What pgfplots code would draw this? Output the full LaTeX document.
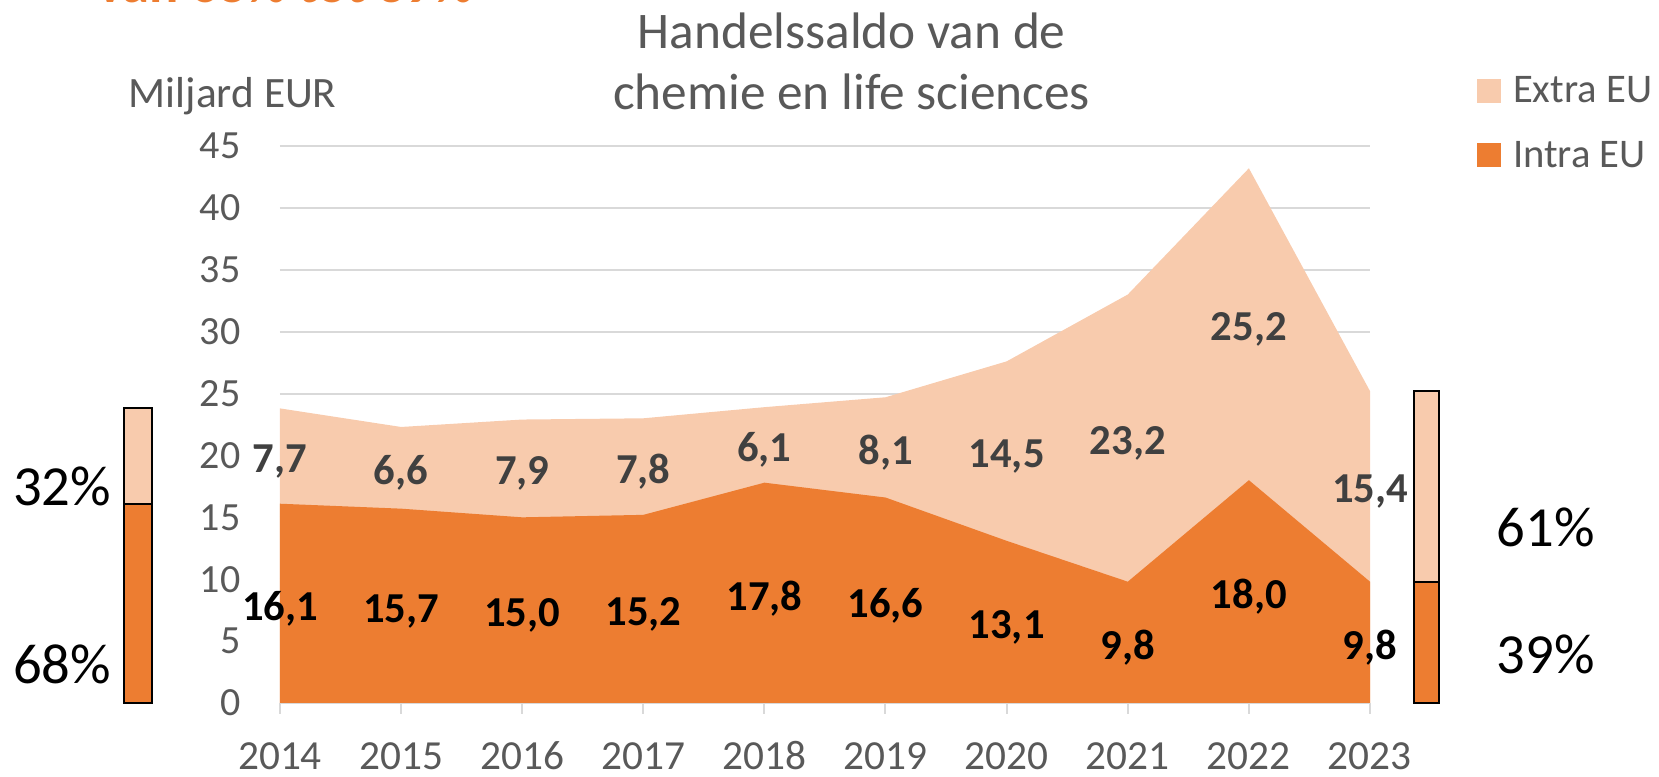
\documentclass[border=0pt]{standalone}
\usepackage{pgfplots}
\pgfplotsset{compat=1.18}
\usepackage{pgfplotstable}
\usepackage{fontspec}
\setmainfont{Carlito}
\definecolor{intra}{HTML}{ED7D31}
\definecolor{extra}{HTML}{F8CBAD}
\definecolor{txt}{HTML}{595959}
\definecolor{gridc}{HTML}{D9D9D9}
\definecolor{lbl}{HTML}{404040}

\pgfplotstableread{
year intra extra il el
2014 16.1 7.7 16,1 7,7
2015 15.7 6.6 15,7 6,6
2016 15.0 7.9 15,0 7,9
2017 15.2 7.8 15,2 7,8
2018 17.8 6.1 17,8 6,1
2019 16.6 8.1 16,6 8,1
2020 13.1 14.5 13,1 14,5
2021 9.8 23.2 9,8 23,2
2022 18.0 25.2 18,0 25,2
2023 9.8 15.4 9,8 15,4
}\data

\begin{document}
\begin{tikzpicture}
\useasboundingbox (-210pt,-55.5pt) rectangle (1034.25pt,527.25pt);
\begin{axis}[
  at={(0pt,0pt)}, anchor=south west,
  scale only axis, width=817.5pt, height=417.75pt,
  xmin=2014, xmax=2023, ymin=0, ymax=45,
  clip=false,
  axis line style={draw=none},
  xtick={2014,...,2023}, ytick={0,5,...,45},
  xtick pos=bottom, ytick pos=left,
  tick align=outside, major tick length=8pt,
  xtick style={gridc, line width=1.5pt},
  ytick style={draw=none},
  ymajorgrids, major grid style={gridc, line width=1.5pt},
  /pgf/number format/assume math mode=true,
  /pgf/number format/1000 sep={},
  yticklabel style={font=\fontsize{30}{36}\selectfont, text=txt, inner xsep=0pt, xshift=-21.5pt},
  xticklabel style={font=\fontsize{31}{37}\selectfont, text=txt, anchor=base, yshift=-42pt},
  legend style={draw=none, fill=none, at={(1.098,1.125)}, anchor=north west,
    font=\fontsize{30.5}{36}\selectfont, text=txt, inner sep=0pt,
    row sep=27.2pt, nodes={inner sep=0pt},
    /tikz/every odd column/.append style={column sep=9pt}},
  legend cell align=left,
  legend image code/.code={\fill[#1] (0pt,-9pt) rectangle (18pt,9pt);},
]
\addplot[fill=extra, draw=none] table[x=year, y expr=\thisrow{intra}+\thisrow{extra}] {\data} \closedcycle;
\addlegendentry{Extra EU}
\addplot[fill=intra, draw=none] table[x=year, y=intra] {\data} \closedcycle;
\addlegendentry{Intra EU}

\addplot[forget plot, draw=none, mark=none, nodes near coords, point meta=explicit symbolic,
  nodes near coords style={anchor=center, inner sep=0pt, yshift=-4pt, font=\fontsize{32}{38}\selectfont\bfseries, text=black}]
  table[x=year, y expr=\thisrow{intra}/2, meta=il] {\data};
\addplot[forget plot, draw=none, mark=none, nodes near coords, point meta=explicit symbolic,
  nodes near coords style={anchor=center, inner sep=0pt, yshift=-4pt, font=\fontsize{32}{38}\selectfont\bfseries, text=lbl}]
  table[x=year, y expr=\thisrow{intra}+\thisrow{extra}/2, meta=el] {\data};

% side bars (2014 and 2023 shares)
\addplot[forget plot, fill=intra, draw=black, line width=1.5pt] coordinates {(2012.712,0) (2012.943,0) (2012.943,16.1) (2012.712,16.1)} -- cycle;
\addplot[forget plot, fill=extra, draw=black, line width=1.5pt] coordinates {(2012.712,16.1) (2012.943,16.1) (2012.943,23.8) (2012.712,23.8)} -- cycle;
\addplot[forget plot, fill=intra, draw=black, line width=1.5pt] coordinates {(2023.363,0) (2023.570,0) (2023.570,9.8) (2023.363,9.8)} -- cycle;
\addplot[forget plot, fill=extra, draw=black, line width=1.5pt] coordinates {(2023.363,9.8) (2023.570,9.8) (2023.570,25.2) (2023.363,25.2)} -- cycle;

\node[font=\fontsize{42.5}{50}\selectfont, text=black] at (axis cs:2012.2,17.53) {32\%};
\node[font=\fontsize{42.5}{50}\selectfont, text=black] at (axis cs:2012.2,3.15) {68\%};
\node[font=\fontsize{42.5}{50}\selectfont, text=black] at (axis cs:2024.45,14.2) {61\%};
\node[font=\fontsize{42.5}{50}\selectfont, text=black] at (axis cs:2024.45,3.96) {39\%};

\node[font=\fontsize{32.5}{38}\selectfont, text=txt] at (axis cs:2013.61,49.04) {Miljard EUR};
\node[font=\fontsize{38.5}{46}\selectfont, text=txt, anchor=base] at (axis cs:2018.72,52.9) {Handelssaldo van de};
\node[font=\fontsize{38.5}{46}\selectfont, text=txt, anchor=base] at (axis cs:2018.72,47.97) {chemie en life sciences};
\node[font=\fontsize{41}{49}\selectfont\bfseries, text=intra, anchor=base west, inner sep=0pt] at (axis cs:2012.489,56.6) {van 68\% tot 39\%};
\end{axis}
\end{tikzpicture}
\end{document}
